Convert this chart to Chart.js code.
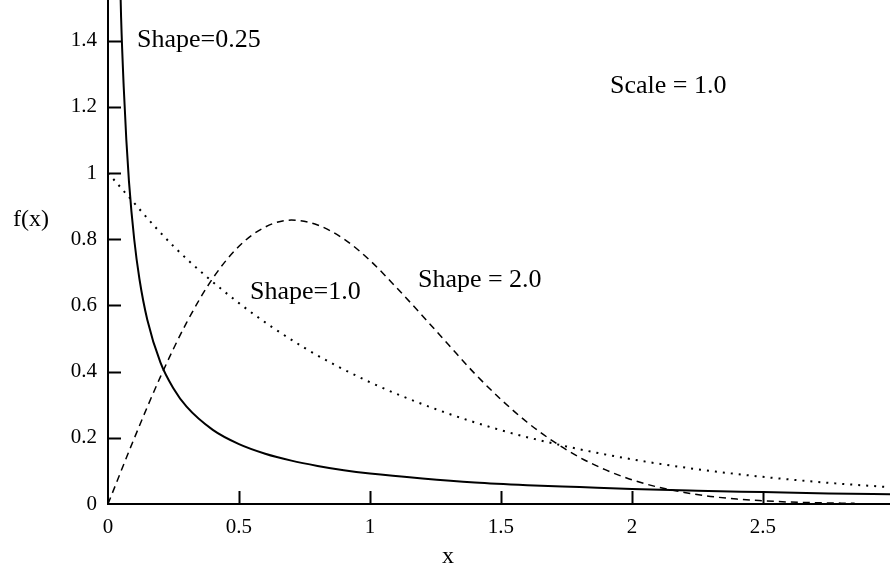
<!DOCTYPE html>
<html>
<head>
<meta charset="utf-8">
<script src="https://cdn.jsdelivr.net/npm/chart.js@4"></script>
<style>
  html, body { margin: 0; padding: 0; background: #fff; }
  #wrap { width: 890px; height: 565px; }
</style>
</head>
<body>
<div id="wrap"><canvas id="weibull"></canvas></div>
<script>
// tick labels
const xTicks = [0, 0.5, 1, 1.5, 2, 2.5];
const yTicks = [0, 0.2, 0.4, 0.6, 0.8, 1, 1.2, 1.4];

// Shape = 0.25 (solid)
const shape025X = [0.02, 0.03, 0.04, 0.05, 0.06, 0.07, 0.08, 0.1, 0.12, 0.15, 0.2, 0.25, 0.3, 0.4, 0.5, 0.6, 0.7, 0.8, 0.9, 1.0, 1.2, 1.4, 1.6, 1.8, 2.0, 2.25, 2.5, 2.75, 3.0];
const shape025Y = [3.2, 2.28, 1.79, 1.47, 1.26, 1.10, 0.975, 0.80, 0.68, 0.557, 0.428, 0.349, 0.294, 0.224, 0.181, 0.152, 0.131, 0.115, 0.102, 0.092, 0.077, 0.065, 0.057, 0.051, 0.045, 0.040, 0.036, 0.032, 0.029];

// Shape = 1.0 (dotted)
const shape1X = [0, 0.25, 0.5, 0.75, 1.0, 1.25, 1.5, 1.75, 2.0, 2.25, 2.5, 2.75, 3.0];
const shape1Y = [1.0, 0.779, 0.607, 0.472, 0.368, 0.287, 0.223, 0.174, 0.135, 0.105, 0.082, 0.064, 0.050];

// Shape = 2.0 (dashed)
const shape2X = [0, 0.1, 0.2, 0.3, 0.4, 0.5, 0.6, 0.7, 0.8, 0.9, 1.0, 1.1, 1.2, 1.3, 1.4, 1.5, 1.6, 1.7, 1.8, 1.9, 2.0, 2.1, 2.2, 2.3, 2.4, 2.5, 2.6, 2.7, 2.85];
const shape2Y = [0, 0.198, 0.384, 0.548, 0.682, 0.779, 0.837, 0.858, 0.843, 0.801, 0.736, 0.655, 0.569, 0.481, 0.394, 0.316, 0.247, 0.189, 0.141, 0.103, 0.073, 0.051, 0.035, 0.023, 0.015, 0.010, 0.006, 0.004, 0.002];

const notes = ['Shape=0.25', 'Scale = 1.0', 'Shape=1.0', 'Shape = 2.0'];

const serif = '"Liberation Serif", "DejaVu Serif", serif';

function pts(xs, ys) {
    return xs.map((v, i) => ({x: v, y: ys[i]}));
}

// inward ticks, free text labels
const decor = {
    id: 'decor',
    afterDraw(chart) {
        const {ctx, scales: {x, y}} = chart;
        ctx.save();
        ctx.strokeStyle = '#000';
        ctx.lineWidth = 2;
        xTicks.forEach(v => {
            if (v === 0) return;
            const px = Math.round(x.getPixelForValue(v)) + 0.5;
            ctx.beginPath();
            ctx.moveTo(px, y.bottom);
            ctx.lineTo(px, y.bottom - 13);
            ctx.stroke();
        });
        yTicks.forEach(v => {
            if (v === 0) return;
            const py = Math.round(y.getPixelForValue(v)) + 0.5;
            ctx.beginPath();
            ctx.moveTo(x.left, py);
            ctx.lineTo(x.left + 13, py);
            ctx.stroke();
        });

        ctx.fillStyle = '#000';
        ctx.textBaseline = 'alphabetic';
        ctx.textAlign = 'left';
        ctx.font = '26px ' + serif;
        const at = [[0.111, 1.38], [1.916, 1.241], [0.542, 0.62], [1.183, 0.655]];
        notes.forEach((t, i) => {
            ctx.fillText(t, x.getPixelForValue(at[i][0]), y.getPixelForValue(at[i][1]));
        });

        ctx.font = '24px ' + serif;
        ctx.fillText('f(x)', 13, 226);
        ctx.textAlign = 'center';
        ctx.fillText('x', 448, 563);
        ctx.restore();
    }
};

window.addEventListener('load', function() {
    const config = {
        type: 'line',
        data: {
            datasets: [
                {
                    label: 'Shape=0.25',
                    data: pts(shape025X, shape025Y),
                    borderColor: '#000',
                    borderWidth: 2,
                    cubicInterpolationMode: 'monotone'
                },
                {
                    label: 'Shape=1.0',
                    data: pts(shape1X, shape1Y),
                    borderColor: '#000',
                    borderWidth: 2,
                    borderDash: [2, 6],
                    cubicInterpolationMode: 'monotone'
                },
                {
                    label: 'Shape=2.0',
                    data: pts(shape2X, shape2Y),
                    borderColor: '#000',
                    borderWidth: 1.5,
                    borderDash: [7, 5],
                    cubicInterpolationMode: 'monotone'
                }
            ]
        },
        options: {
            responsive: true,
            maintainAspectRatio: false,
            animation: false,
            elements: { point: { radius: 0 } },
            layout: { padding: 0 },
            plugins: {
                legend: { display: false },
                tooltip: { enabled: false }
            },
            scales: {
                x: {
                    type: 'linear',
                    min: 0,
                    max: 2.985,
                    afterBuildTicks: s => { s.ticks = xTicks.map(v => ({value: v})); },
                    afterFit: s => { s.height = 61; s.paddingLeft = 0; s.paddingRight = 0; },
                    grid: { display: false, drawTicks: false },
                    border: { display: true, color: '#000', width: 2 },
                    ticks: {
                        padding: 11,
                        color: '#000',
                        maxRotation: 0,
                        font: { family: serif, size: 21 },
                        callback: v => String(v)
                    }
                },
                y: {
                    min: 0,
                    max: 1.523,
                    afterBuildTicks: s => { s.ticks = yTicks.map(v => ({value: v})); },
                    afterFit: s => { s.width = 108; s.paddingTop = 0; s.paddingBottom = 0; },
                    grid: { display: false, drawTicks: false },
                    border: { display: true, color: '#000', width: 2 },
                    ticks: {
                        padding: 11,
                        color: '#000',
                        font: { family: serif, size: 21 },
                        callback: v => String(v)
                    }
                }
            }
        },
        plugins: [decor]
    };
    new Chart(document.getElementById('weibull'), config);
});
</script>
</body>
</html>
